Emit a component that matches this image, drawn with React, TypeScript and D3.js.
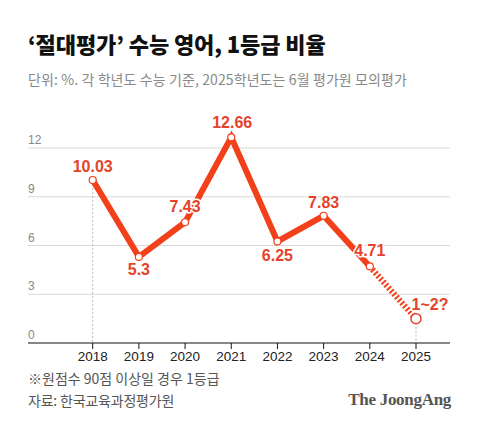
import React from "react";
import * as d3 from "d3";

const years = ["2018", "2019", "2020", "2021", "2022", "2023", "2024", "2025"];
const rates = [10.03, 5.3, 7.43, 12.66, 6.25, 7.83, 4.71, 1.5];
const valueLabels = ["10.03", "5.3", "7.43", "12.66", "6.25", "7.83", "4.71", "1~2?"];
// where each label sits around its point: [dx, dy]
const labelOffsets: [number, number][] = [
  [0, -8],
  [0, 18],
  [0, -10],
  [1, -9],
  [0, 20],
  [0, -8],
  [0, -10],
  [14, -9],
];
const yTicks = [0, 3, 6, 9, 12];

const RED = "#F2401A";
const LABEL_RED = "#E5432A";
const KR = "'Noto Sans CJK KR', sans-serif";
const NUM = "'Liberation Sans', 'Noto Sans CJK KR', sans-serif";

const W = 480;
const H = 438;
const left = 28;
const right = 450;

export default function App() {
  const x = d3.scalePoint<string>().domain(years).range([92.7, 416]);
  const y = d3.scaleLinear().domain([0, 12]).range([343, 148]);

  const pts = years.map((yr, i) => ({ yr, v: rates[i], cx: x(yr)!, cy: y(rates[i]) }));
  const line = d3
    .line<{ cx: number; cy: number }>()
    .x((d) => d.cx)
    .y((d) => d.cy);

  const solid = pts.slice(0, 7);
  const dashed = pts.slice(6);

  return (
    <div style={{ position: "fixed", left: 0, top: 0 }}>
      <svg width={W} height={H} style={{ display: "block", background: "#fff" }}>
        <text x={left} y={53} fontFamily={KR} fontWeight={900} fontSize={22} fill="#111" letterSpacing={-0.1}>
          ‘절대평가’ 수능 영어, 1등급 비율
        </text>
        <text x={left} y={85} fontFamily={KR} fontSize={14} fill="#888" letterSpacing={0.1}>
          단위: %. 각 학년도 수능 기준, 2025학년도는 6월 평가원 모의평가
        </text>

        {/* grid + y labels */}
        {yTicks.map((t) => (
          <g key={t}>
            {t > 0 && <line x1={left} x2={right} y1={y(t)} y2={y(t)} stroke="#cfcfcf" strokeWidth={0.8} />}
            <text x={left} y={y(t) - 4} fontFamily={NUM} fontSize={12} fill="#888">
              {t}
            </text>
          </g>
        ))}

        {/* guides at first and last point */}
        {[pts[0], pts[7]].map((p) => (
          <line
            key={p.yr}
            x1={p.cx}
            x2={p.cx}
            y1={p.cy}
            y2={y(0)}
            stroke="#aaa"
            strokeWidth={0.8}
            strokeDasharray="2,2"
          />
        ))}

        {/* x axis */}
        <line x1={left} x2={right} y1={y(0)} y2={y(0)} stroke="#111" strokeWidth={1} />
        {years.map((yr) => (
          <g key={yr}>
            <line x1={x(yr)} x2={x(yr)} y1={y(0)} y2={y(0) + 6} stroke="#111" strokeWidth={1} />
            <text x={x(yr)} y={361} textAnchor="middle" fontFamily={NUM} fontSize={13.5} fill="#222">
              {yr}
            </text>
          </g>
        ))}

        {/* series */}
        <path d={line(solid)!} fill="none" stroke={RED} strokeWidth={6} strokeLinejoin="miter" />
        <path d={line(dashed)!} fill="none" stroke={RED} strokeWidth={6} strokeDasharray="2,2" />

        {pts.map((p, i) => (
          <text
            key={"l" + p.yr}
            x={p.cx + labelOffsets[i][0]}
            y={p.cy + labelOffsets[i][1]}
            textAnchor="middle"
            fontFamily={NUM}
            fontWeight={700}
            fontSize={16}
            fill={LABEL_RED}
            stroke="#fff"
            strokeWidth={3}
            paintOrder="stroke"
            strokeLinejoin="round"
          >
            {valueLabels[i]}
          </text>
        ))}

        {pts.map((p, i) => (
          <circle
            key={"c" + p.yr}
            cx={p.cx}
            cy={p.cy}
            r={i === 7 ? 5 : 3.5}
            fill="#fff"
            stroke={i === 7 ? LABEL_RED : RED}
            strokeWidth={i === 7 ? 1.5 : 1.2}
          />
        ))}

        {/* footer */}
        <text x={left} y={384} fontFamily={KR} fontSize={14} fill="#555" letterSpacing={0}>
          ※원점수 90점 이상일 경우 1등급
        </text>
        <text x={left} y={406} fontFamily={KR} fontSize={14} fill="#555" letterSpacing={-0.2}>
          자료: 한국교육과정평가원
        </text>
        <text
          x={451}
          y={405}
          textAnchor="end"
          fontFamily="'Liberation Serif', 'DejaVu Serif', serif"
          fontWeight={700}
          fontSize={17}
          fill="#555"
          letterSpacing={-0.3}
        >
          The JoongAng
        </text>
      </svg>
    </div>
  );
}
